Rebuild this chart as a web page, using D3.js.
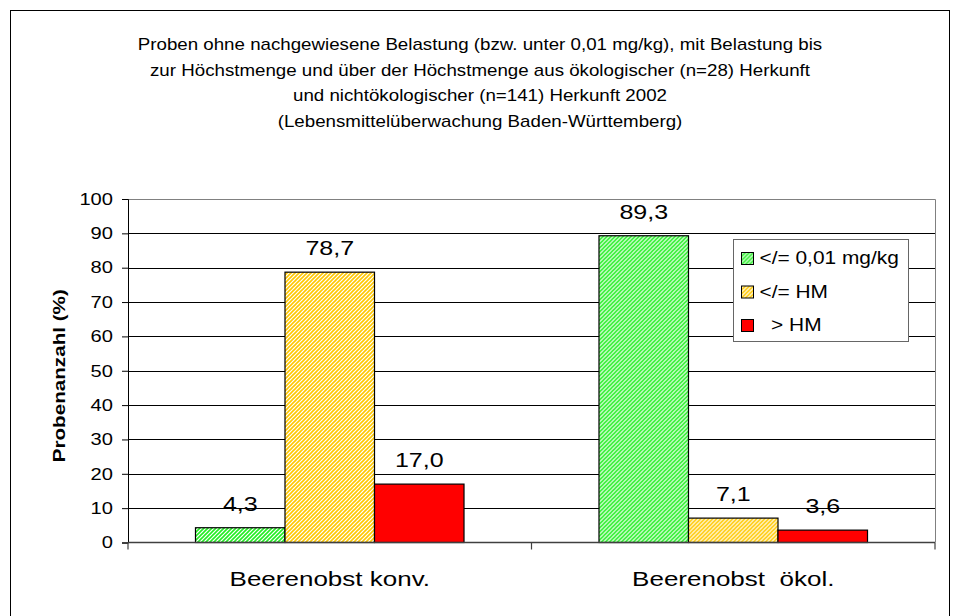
<!DOCTYPE html>
<html>
<head>
<meta charset="utf-8">
<script src="https://cdn.jsdelivr.net/npm/d3@7"></script>
<style>
  body { margin: 0; background: #fff; }
  text { font-family: Arial, "Liberation Sans", sans-serif; fill: #000; }
</style>
</head>
<body>
<svg id="chart" width="960" height="616"></svg>
<script>
var titleLines = [
  "Proben ohne nachgewiesene Belastung (bzw. unter 0,01 mg/kg), mit Belastung bis",
  "zur Höchstmenge und über der Höchstmenge aus ökologischer (n=28) Herkunft",
  "und nichtökologischer (n=141) Herkunft 2002",
  "(Lebensmittelüberwachung Baden-Württemberg)"
];
var categories = ["Beerenobst konv.", "Beerenobst  ökol."];
var seriesNames = ["</= 0,01 mg/kg", "</= HM", "  > HM"];
var seriesLow = [4.3, 89.3];
var seriesHM = [78.7, 7.1];
var seriesOver = [17.0, 3.6];
var yTicks = [0, 10, 20, 30, 40, 50, 60, 70, 80, 90, 100];
var yLabel = "Probenanzahl (%)";

var svg = d3.select("#chart");
var fmt = function(v) { return v.toFixed(1).replace(".", ","); };

// the original fonts render wider than Arial, so texts get stretched
function place(x, y, sx) {
  return "translate(" + x + "," + y + ") scale(" + sx + ",1)";
}

// patterns for the hatched bars
var defs = svg.append("defs");
function hatch(id, color) {
  var p = defs.append("pattern")
    .attr("id", id)
    .attr("patternUnits", "userSpaceOnUse")
    .attr("width", 4)
    .attr("height", 4);
  p.append("rect").attr("width", 4).attr("height", 4).attr("fill", "#fff");
  p.append("path")
    .attr("d", "M-1,1 l2,-2 M0,4 l4,-4 M3,5 l2,-2")
    .attr("stroke", color)
    .attr("stroke-width", 1.6);
}
hatch("hGreen", "#22ee22");
hatch("hYellow", "#ffc800");
var fills = ["url(#hGreen)", "url(#hYellow)", "#ff0000"];

// outer frame
svg.append("rect")
  .attr("x", 10.5).attr("y", 10.5)
  .attr("width", 939).attr("height", 620)
  .attr("fill", "none").attr("stroke", "#000").attr("stroke-width", 1);

// title
svg.append("g").selectAll("text")
  .data(titleLines)
  .enter()
  .append("text")
  .attr("transform", function(d, i) { return place(480, 50 + i * 25.7, 1.17); })
  .attr("text-anchor", "middle")
  .style("font-size", "16px")
  .text(function(d) { return d; });

var plotL = 128, plotR = 935, plotT = 199, plotB = 542.5;

var x0 = d3.scaleBand().domain(categories).range([plotL, plotR]).paddingInner(0).paddingOuter(0);
var x1 = d3.scaleBand().domain(d3.range(3)).range([0, x0.bandwidth()]).paddingInner(0).paddingOuter(0.754);
var y = d3.scaleLinear().domain([0, 100]).range([plotB, plotT]);

// gridlines
svg.append("g").selectAll("line")
  .data(yTicks.filter(function(d) { return d > 0 && d < 100; }))
  .enter()
  .append("line")
  .attr("x1", plotL).attr("x2", plotR)
  .attr("y1", function(d) { return Math.round(y(d)) + 0.5; })
  .attr("y2", function(d) { return Math.round(y(d)) + 0.5; })
  .attr("stroke", "#000").attr("stroke-width", 1);

// plot border top/right
svg.append("path")
  .attr("d", "M" + plotL + "," + (Math.round(plotT) + 0.5) + "H" + (plotR + 0.5) + "V" + plotB)
  .attr("fill", "none").attr("stroke", "#808080").attr("stroke-width", 1);

// bars
var rows = categories.map(function(c, i) {
  return [seriesLow[i], seriesHM[i], seriesOver[i]];
});
var groups = svg.append("g").selectAll("g")
  .data(rows)
  .enter()
  .append("g")
  .attr("transform", function(d, i) { return "translate(" + x0(categories[i]) + ",0)"; });

groups.selectAll("rect")
  .data(function(d) { return d; })
  .enter()
  .append("rect")
  .attr("x", function(d, i) { return x1(i); })
  .attr("y", function(d) { return y(d); })
  .attr("width", x1.bandwidth())
  .attr("height", function(d) { return y(0) - y(d); })
  .attr("fill", function(d, i) { return fills[i]; })
  .attr("stroke", "#000")
  .attr("stroke-width", 1.2);

groups.selectAll("text")
  .data(function(d) { return d; })
  .enter()
  .append("text")
  .attr("transform", function(d, i) {
    return place(x1(i) + x1.bandwidth() / 2, y(d) - 17, 1.25);
  })
  .attr("text-anchor", "middle")
  .style("font-size", "20px")
  .text(function(d) { return fmt(d); });

// y axis
var yAxis = svg.append("g")
  .attr("transform", "translate(" + plotL + ",0)")
  .call(d3.axisLeft(y).tickValues(yTicks).tickSize(6).tickPadding(6));
yAxis.select(".domain").attr("stroke", "#000");
yAxis.selectAll(".tick line").attr("stroke", "#000");
yAxis.selectAll(".tick text")
  .attr("x", null)
  .attr("transform", "translate(-15,0) scale(1.22,1)")
  .style("font-size", "16.5px")
  .style("font-family", "Arial, 'Liberation Sans', sans-serif")
  .attr("fill", "#000");

// x axis
var xAxis = svg.append("g")
  .attr("transform", "translate(0," + plotB + ")");
xAxis.append("line")
  .attr("x1", plotL).attr("x2", plotR)
  .attr("stroke", "#404040").attr("stroke-width", 1.6);
xAxis.selectAll(".xt")
  .data([plotL, x0(categories[1]), plotR])
  .enter()
  .append("line")
  .attr("x1", function(d) { return d; })
  .attr("x2", function(d) { return d; })
  .attr("y1", 0).attr("y2", 7)
  .attr("stroke", "#404040").attr("stroke-width", 1.2);
xAxis.selectAll("text")
  .data(categories)
  .enter()
  .append("text")
  .attr("transform", function(d) { return place(x0(d) + x0.bandwidth() / 2, 43, 1.3); })
  .attr("text-anchor", "middle")
  .style("font-size", "20px")
  .style("white-space", "pre")
  .text(function(d) { return d; });

// y label
svg.append("text")
  .attr("transform", "translate(65," + ((plotT + plotB) / 2 + 5) + ") rotate(-90) scale(1.29,1)")
  .attr("text-anchor", "middle")
  .style("font-size", "16px")
  .style("font-weight", "bold")
  .text(yLabel);

// legend
var lg = svg.append("g").attr("transform", "translate(733.5,239.5)");
lg.append("rect")
  .attr("width", 175).attr("height", 102)
  .attr("fill", "#fff").attr("stroke", "#666").attr("stroke-width", 1);
var items = lg.selectAll("g")
  .data(seriesNames)
  .enter()
  .append("g")
  .attr("transform", function(d, i) { return "translate(8," + (13 + i * 33.5) + ")"; });
items.append("rect")
  .attr("width", 12).attr("height", 12)
  .attr("fill", function(d, i) { return fills[i]; })
  .attr("stroke", "#000").attr("stroke-width", 1);
items.append("text")
  .attr("transform", place(18, 11.5, 1.13))
  .style("font-size", "18.5px")
  .style("white-space", "pre")
  .text(function(d) { return d; });
</script>
</body>
</html>
